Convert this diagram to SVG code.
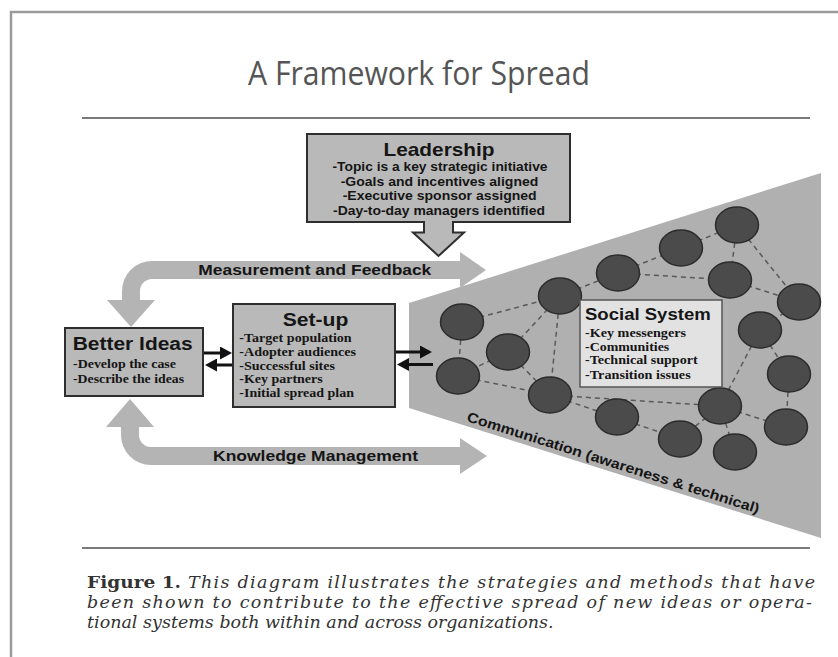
<svg xmlns="http://www.w3.org/2000/svg" width="838" height="657" viewBox="0 0 838 657">
<defs>
<marker id="ah" viewBox="0 0 12 13" refX="8" refY="6.5" markerWidth="12" markerHeight="13" markerUnits="userSpaceOnUse" orient="auto"><path d="M0,0 L12,6.5 L0,13 Z" fill="#111"/></marker>
</defs>
<style>
.box{fill:#b9b9b9;stroke:#2e2e2e;stroke-width:2}
.band{fill:#b4b4b4}
.node{fill:#4b4b4b;stroke:#2c2c2c;stroke-width:1.5}
.edge{stroke:#5a5a5a;stroke-width:1.5;stroke-dasharray:5 4;fill:none}
.blk{stroke:#111;stroke-width:3;fill:none;marker-end:url(#ah)}
.hs{font-family:"Liberation Sans",Arial,sans-serif;font-weight:bold;fill:#151515}
.ss{font-family:"Liberation Serif","Times New Roman",serif;font-weight:bold;fill:#151515;font-size:12.5px}
.cap{font-family:"DejaVu Serif",serif;fill:#333;font-size:17.5px}
.rule{stroke:#7a7a7a;stroke-width:2}
</style>
<rect width="838" height="657" fill="#fff"/>
<path d="M11,657 V12 H838" fill="none" stroke="#9a9a9a" stroke-width="2.5"/>
<text x="419" y="85" text-anchor="middle" font-family="'Open Sans','Noto Sans',sans-serif" font-size="32" fill="#555" textLength="342" lengthAdjust="spacingAndGlyphs">A Framework for Spread</text>
<line class="rule" x1="82" y1="118" x2="810" y2="118"/>
<line class="rule" x1="82" y1="548" x2="810" y2="548"/>

<g id="social-system-area">
<polygon points="409,303 821,173 821,538 409,408" fill="#b0b0b0"/>
</g>

<g id="connectors">
<path id="measurement-feedback" class="band" d="M152,261 H460 V252 L486,270 L460,288 V279 H152 A12,12 0 0 0 140,291 V300 H155 L131,327 L107,300 H122 V291 A30,30 0 0 1 152,261 Z"/>
<path id="knowledge-management" class="band" d="M130,399 L154,427 H139 V435 A12,12 0 0 0 151,447 H460 V438 L487,456 L460,474 V465 H151 A30,30 0 0 1 121,435 V427 H106 Z"/>
<text class="hs" x="198.3" y="275" font-size="14.5" textLength="233" lengthAdjust="spacingAndGlyphs">Measurement and Feedback</text>
<text class="hs" x="213" y="461" font-size="15.5" textLength="205" lengthAdjust="spacingAndGlyphs">Knowledge Management</text>
<line class="blk" x1="203" y1="353" x2="228" y2="353"/>
<line class="blk" x1="232" y1="365" x2="209" y2="365"/>
<line class="blk" x1="396" y1="352" x2="428" y2="352"/>
<line class="blk" x1="433" y1="364.5" x2="401" y2="364.5"/>
<g id="network-edges">
<line class="edge" x1="462" y1="322" x2="560" y2="296"/>
<line class="edge" x1="462" y1="322" x2="458" y2="376"/>
<line class="edge" x1="560" y1="296" x2="508" y2="352"/>
<line class="edge" x1="560" y1="296" x2="550" y2="395"/>
<line class="edge" x1="508" y1="352" x2="550" y2="395"/>
<line class="edge" x1="508" y1="352" x2="458" y2="376"/>
<line class="edge" x1="458" y1="376" x2="550" y2="395"/>
<line class="edge" x1="560" y1="296" x2="618" y2="273"/>
<line class="edge" x1="618" y1="273" x2="681" y2="248"/>
<line class="edge" x1="681" y1="248" x2="737" y2="225"/>
<line class="edge" x1="618" y1="273" x2="730" y2="280"/>
<line class="edge" x1="737" y1="225" x2="730" y2="280"/>
<line class="edge" x1="737" y1="225" x2="799" y2="302"/>
<line class="edge" x1="730" y1="280" x2="799" y2="302"/>
<line class="edge" x1="799" y1="302" x2="760" y2="330"/>
<line class="edge" x1="760" y1="330" x2="789" y2="374"/>
<line class="edge" x1="760" y1="330" x2="720" y2="406"/>
<line class="edge" x1="789" y1="374" x2="786" y2="427"/>
<line class="edge" x1="720" y1="406" x2="786" y2="427"/>
<line class="edge" x1="720" y1="406" x2="680" y2="439"/>
<line class="edge" x1="720" y1="406" x2="735" y2="452"/>
<line class="edge" x1="550" y1="395" x2="720" y2="406"/>
<line class="edge" x1="550" y1="395" x2="680" y2="439"/>
</g>
</g>

<g id="leadership">
<path class="box" d="M307,134 H570 V222 H453 V232.5 H464 L438.5,256 L413,232.5 H424 V222 H307 Z"/>
<text class="hs" x="439" y="156" font-size="19" text-anchor="middle" textLength="111" lengthAdjust="spacingAndGlyphs">Leadership</text>
<text class="hs" x="440" y="171" font-size="13.5" text-anchor="middle" textLength="215" lengthAdjust="spacingAndGlyphs">-Topic is a key strategic initiative</text>
<text class="hs" x="439.5" y="185.5" font-size="13.5" text-anchor="middle" textLength="197.6" lengthAdjust="spacingAndGlyphs">-Goals and incentives aligned</text>
<text class="hs" x="439.7" y="200" font-size="13.5" text-anchor="middle" textLength="194" lengthAdjust="spacingAndGlyphs">-Executive sponsor assigned</text>
<text class="hs" x="439" y="214.5" font-size="13.5" text-anchor="middle" textLength="212" lengthAdjust="spacingAndGlyphs">-Day-to-day managers identified</text>
</g>

<g id="better-ideas">
<rect class="box" x="65" y="328" width="138" height="68"/>
<text class="hs" x="72.7" y="350" font-size="18" textLength="120" lengthAdjust="spacingAndGlyphs">Better Ideas</text>
<text class="ss" x="73" y="368.3" textLength="103" lengthAdjust="spacingAndGlyphs">-Develop the case</text>
<text class="ss" x="73" y="382.7" textLength="111" lengthAdjust="spacingAndGlyphs">-Describe the ideas</text>
</g>

<g id="set-up">
<rect class="box" x="233" y="304" width="162" height="103"/>
<text class="hs" x="282.7" y="326" font-size="18" textLength="65.6" lengthAdjust="spacingAndGlyphs">Set-up</text>
<text class="ss" x="239.3" y="341.7" textLength="112.4" lengthAdjust="spacingAndGlyphs">-Target population</text>
<text class="ss" x="239.3" y="356" textLength="116.7" lengthAdjust="spacingAndGlyphs">-Adopter audiences</text>
<text class="ss" x="239.3" y="370" textLength="95.7" lengthAdjust="spacingAndGlyphs">-Successful sites</text>
<text class="ss" x="239.3" y="383.3" textLength="83.4" lengthAdjust="spacingAndGlyphs">-Key partners</text>
<text class="ss" x="239.3" y="397.3" textLength="114.7" lengthAdjust="spacingAndGlyphs">-Initial spread plan</text>
</g>

<g id="network-nodes">
<ellipse class="node" cx="737" cy="225" rx="21.5" ry="18"/>
<ellipse class="node" cx="681" cy="248" rx="21.5" ry="18"/>
<ellipse class="node" cx="618" cy="273" rx="21.5" ry="18"/>
<ellipse class="node" cx="730" cy="280" rx="21.5" ry="18"/>
<ellipse class="node" cx="799" cy="302" rx="21.5" ry="18"/>
<ellipse class="node" cx="560" cy="296" rx="21.5" ry="18"/>
<ellipse class="node" cx="462" cy="322" rx="21.5" ry="18"/>
<ellipse class="node" cx="508" cy="352" rx="21.5" ry="18"/>
<ellipse class="node" cx="458" cy="376" rx="21.5" ry="18"/>
<ellipse class="node" cx="550" cy="395" rx="21.5" ry="18"/>
<ellipse class="node" cx="617" cy="417" rx="21.5" ry="18"/>
<ellipse class="node" cx="760" cy="330" rx="21.5" ry="18"/>
<ellipse class="node" cx="789" cy="374" rx="21.5" ry="18"/>
<ellipse class="node" cx="720" cy="406" rx="21.5" ry="18"/>
<ellipse class="node" cx="786" cy="427" rx="21.5" ry="18"/>
<ellipse class="node" cx="680" cy="439" rx="21.5" ry="18"/>
<ellipse class="node" cx="735" cy="452" rx="21.5" ry="18"/>
</g>

<g id="social-system">
<rect x="580" y="300" width="142" height="87" fill="#e2e2e2" stroke="#555" stroke-width="1.5"/>
<text class="hs" x="585" y="320" font-size="17" textLength="125.7" lengthAdjust="spacingAndGlyphs">Social System</text>
<text class="ss" x="585" y="336.7" textLength="101" lengthAdjust="spacingAndGlyphs">-Key messengers</text>
<text class="ss" x="585" y="351" textLength="84.3" lengthAdjust="spacingAndGlyphs">-Communities</text>
<text class="ss" x="585" y="364.3" textLength="112.7" lengthAdjust="spacingAndGlyphs">-Technical support</text>
<text class="ss" x="585" y="379" textLength="105.7" lengthAdjust="spacingAndGlyphs">-Transition issues</text>
</g>

<g id="communication">
<text class="hs" font-size="14" transform="translate(466,421) rotate(17.6)" textLength="306" lengthAdjust="spacingAndGlyphs">Communication (awareness &amp; technical)</text>
</g>

<g id="caption">
<text class="cap" x="87" y="588" font-weight="bold" textLength="94" lengthAdjust="spacingAndGlyphs">Figure 1.</text>
<text class="cap" x="188" y="588" font-style="italic" textLength="627" lengthAdjust="spacing">This diagram illustrates the strategies and methods that have</text>
<text class="cap" x="87" y="608" font-style="italic" textLength="725" lengthAdjust="spacing">been shown to contribute to the effective spread of new ideas or opera-</text>
<text class="cap" x="87" y="628" font-style="italic">tional systems both within and across organizations.</text>
</g>
</svg>
